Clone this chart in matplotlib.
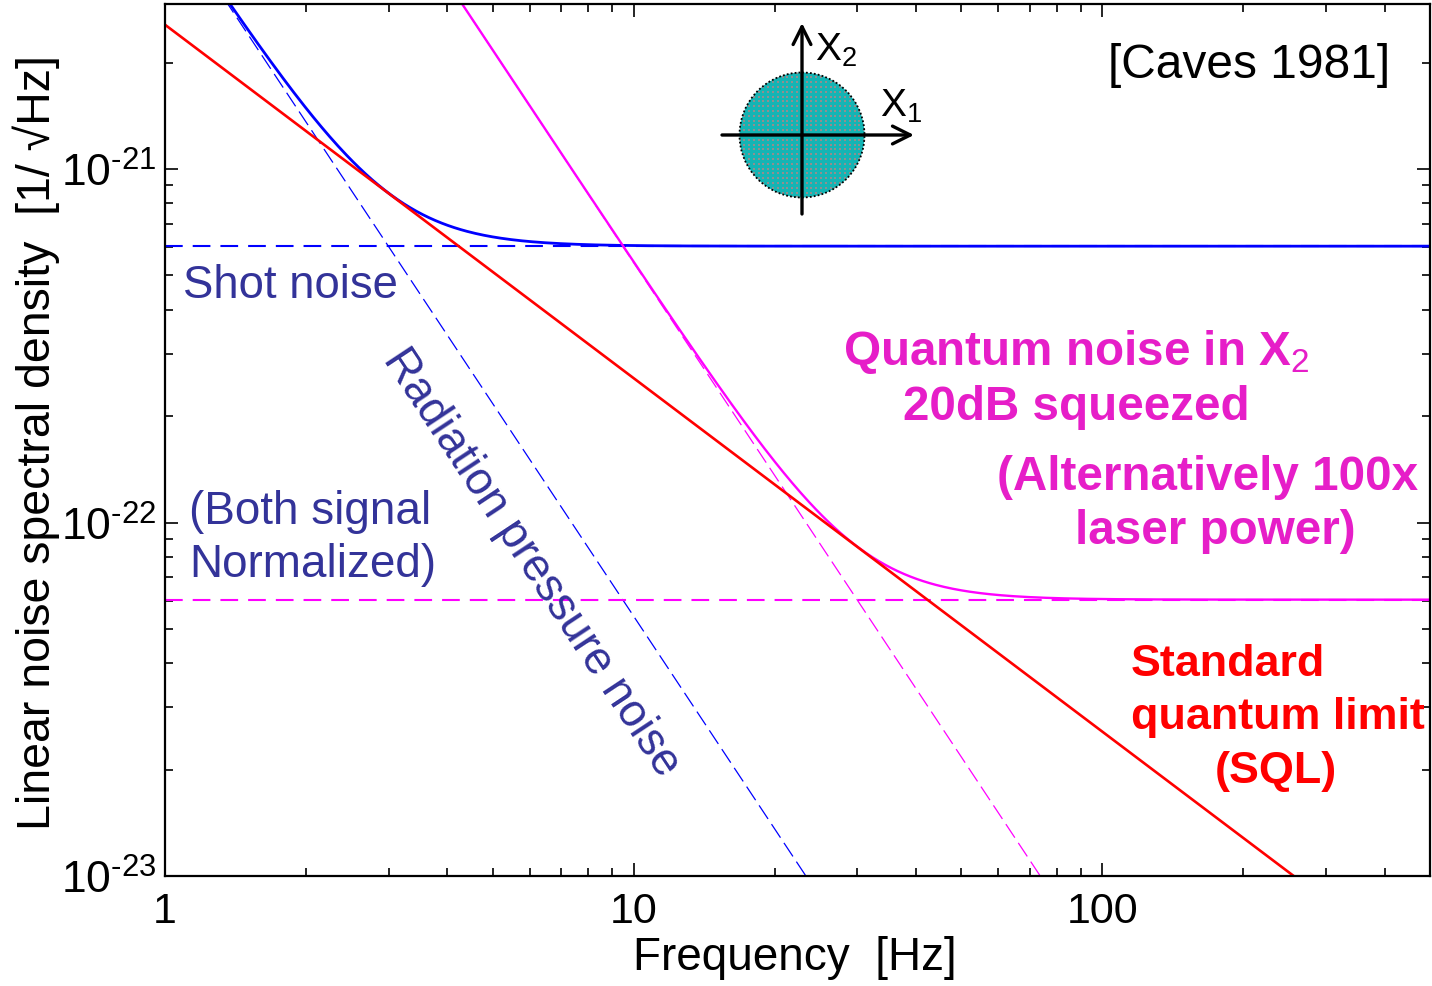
import numpy as np
import matplotlib
matplotlib.use("Agg")
import matplotlib.pyplot as plt
from matplotlib.patches import Circle
from matplotlib.ticker import NullFormatter, LogLocator

plt.rcParams['font.family'] = ['Liberation Sans', 'DejaVu Sans']
plt.rcParams['mathtext.fontset'] = 'custom'
plt.rcParams['mathtext.rm'] = 'Liberation Sans'
plt.rcParams['mathtext.bf'] = 'Liberation Sans:bold'

# ---- values ----
freq_range = [1.0, 500.0]                 # Hz, x-axis limits
y_range = [1e-23, 2.93e-21]               # 1/sqrt(Hz), y-axis limits
shot_noise_level = 6.05e-22               # flat shot-noise level
rad_pressure_at_1Hz = 5.43e-21            # radiation pressure noise ~ 1/f^2
sql_at_1Hz = 2.56e-21                     # standard quantum limit ~ 1/f
squeeze_amplitude_factor = 10.0           # 20 dB squeezing
x_tick_values = [1, 10, 100]
x_tick_labels = ['1', '10', '100']
y_tick_values = [1e-23, 1e-22, 1e-21]
y_tick_labels = [r'$\mathregular{10^{\text{-}23}}$', r'$\mathregular{10^{\text{-}22}}$',
                 r'$\mathregular{10^{\text{-}21}}$']

f = np.logspace(np.log10(freq_range[0]), np.log10(freq_range[1]), 600)
shot = np.full_like(f, shot_noise_level)
rad = rad_pressure_at_1Hz / f**2
total = np.sqrt(shot**2 + rad**2)
shot_sq = shot / squeeze_amplitude_factor
rad_sq = rad * squeeze_amplitude_factor
total_sq = np.sqrt(shot_sq**2 + rad_sq**2)
sql = sql_at_1Hz / f

W, H = 1432, 987
fig = plt.figure(figsize=(W / 100, H / 100), dpi=100)
ax = fig.add_axes([165 / W, 1 - 877 / H, (1430 - 165) / W, (877 - 5) / H])
ax.set_xscale('log')
ax.set_yscale('log')

BLUE = '#0000ff'
MAG = '#ff00ff'
RED = '#ff0000'

ax.plot(f, shot, color=BLUE, lw=1.5, dashes=(8.5, 4.8))
ax.plot(f, rad, color=BLUE, lw=0.9, dashes=(13, 5))
ax.plot(f, shot_sq, color=MAG, lw=1.5, dashes=(8.5, 4.8))
ax.plot(f, rad_sq, color=MAG, lw=0.9, dashes=(13, 5))
ax.plot(f, total, color=BLUE, lw=2.0)
ax.plot(f, total_sq, color=MAG, lw=1.7)
ax.plot(f, sql, color=RED, lw=1.9)

ax.set_xlim(*freq_range)
ax.set_ylim(*y_range)

ax.set_xticks(x_tick_values, labels=x_tick_labels)
ax.set_yticks(y_tick_values, labels=y_tick_labels)
ax.xaxis.set_minor_locator(LogLocator(base=10, subs=np.arange(2, 10)))
ax.yaxis.set_minor_locator(LogLocator(base=10, subs=np.arange(2, 10)))
ax.xaxis.set_minor_formatter(NullFormatter())
ax.yaxis.set_minor_formatter(NullFormatter())
ax.tick_params(which='both', direction='in', top=True, right=True, width=1.2, color='black')
ax.tick_params(which='major', length=9.5)
ax.tick_params(axis='x', which='major', labelsize=31, pad=11)
ax.tick_params(axis='y', which='major', labelsize=32, pad=6)
ax.tick_params(which='minor', length=5.5)
for s in ax.spines.values():
    s.set_linewidth(1.6)

ax.set_xlabel('Frequency  [Hz]', fontsize=33, va='center')
ax.xaxis.set_label_coords((795 - 165) / 1265, (877 - 958) / 872)
ax.set_ylabel('Linear noise spectral density  [1/ \u221aHz]', fontsize=33.5, va='center')
ax.yaxis.set_label_coords((36 - 165) / 1265, (877 - 443) / 872)

# ---- overlay in figure-pixel coordinates for annotations ----
ov = fig.add_axes([0, 0, 1, 1], facecolor='none')
ov.set_xlim(0, W)
ov.set_ylim(H, 0)
ov.axis('off')

TXT_BLUE = '#333399'
TXT_MAG = '#e61ec8'

ov.text(1249, 66, '[Caves 1981]', fontsize=34.5, ha='center', va='center', color='black')
ov.text(183, 286, 'Shot noise', fontsize=32.8, ha='left', va='center', color=TXT_BLUE)
ov.text(189, 512, '(Both signal', fontsize=33, ha='left', va='center', color=TXT_BLUE)
ov.text(189, 565, 'Normalized)', fontsize=33, ha='left', va='center', color=TXT_BLUE)
ov.text(531, 563, 'Radiation pressure noise', fontsize=32.8, ha='center', va='center',
        color=TXT_BLUE, rotation=-56.5, rotation_mode='anchor')

ov.text(843, 352, r'Quantum noise in X$_{\mathrm{2}}$', fontsize=34.3, fontweight='bold',
        ha='left', va='center', color=TXT_MAG)
ov.text(1076, 407, '20dB squeezed', fontsize=34.3, fontweight='bold', ha='center', va='center', color=TXT_MAG)
ov.text(1208, 478, '(Alternatively 100x', fontsize=34.3, fontweight='bold', ha='center', va='center', color=TXT_MAG)
ov.text(1215, 532, 'laser power)', fontsize=34.3, fontweight='bold', ha='center', va='center', color=TXT_MAG)

ov.text(1131, 665, 'Standard', fontsize=32.3, fontweight='bold', ha='left', va='center', color=RED)
ov.text(1131, 718, 'quantum limit', fontsize=32.3, fontweight='bold', ha='left', va='center', color=RED)
ov.text(1276, 772, '(SQL)', fontsize=32.3, fontweight='bold', ha='center', va='center', color=RED)

# phase-space diagram
cx, cy, r = 802, 136, 62.5
disk = Circle((cx, cy), r, facecolor='#14b4b4', edgecolor='none', lw=0)
ov.add_patch(disk)
gx, gy = np.meshgrid(np.arange(cx - r, cx + r + 1, 4.8), np.arange(cy - r, cy + r + 1, 4.8))
dots = ov.scatter(gx.ravel(), gy.ravel(), s=3.2, marker='s', color='#8f8f8f', linewidths=0)
dots.set_clip_path(disk)
ov.add_patch(Circle((cx, cy), r, facecolor='none', edgecolor='black', lw=1.3, linestyle=(0, (1, 1.2))))
ov.annotate('', xy=(914, cy), xytext=(722, cy),
            arrowprops=dict(arrowstyle='->', lw=2.4, color='black', mutation_scale=32, shrinkA=0, shrinkB=0))
ov.annotate('', xy=(cx, 24), xytext=(cx, 215),
            arrowprops=dict(arrowstyle='->', lw=2.4, color='black', mutation_scale=32, shrinkA=0, shrinkB=0))
ov.text(815, 61, r'X$_{\mathrm{2}}$', fontsize=28, ha='left', va='baseline')
ov.text(880, 117, r'X$_{\mathrm{1}}$', fontsize=28, ha='left', va='baseline')

fig.savefig('out.png', dpi=100)
